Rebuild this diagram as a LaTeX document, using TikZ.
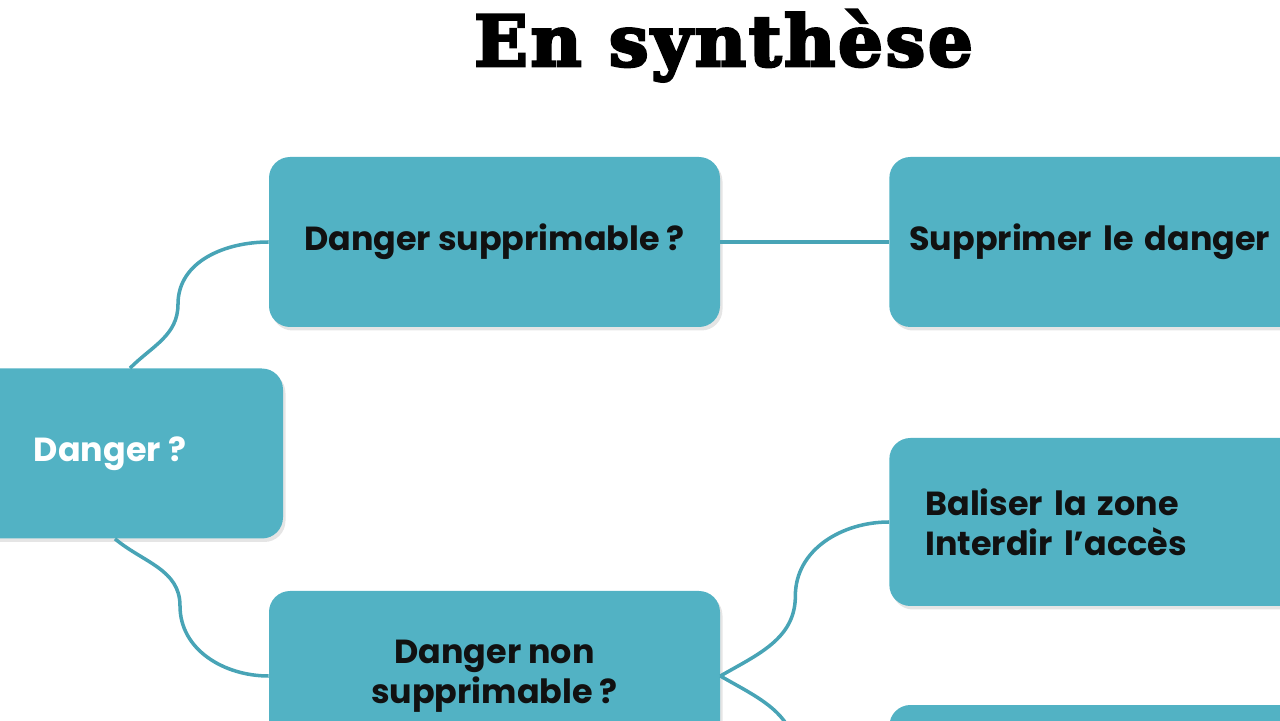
\documentclass[tikz,border=0pt]{standalone}
\usepackage{fontspec}
\setmainfont{Poppins}
\newfontfamily\titlefont{DejaVu Serif}[BoldFont=* Bold,FakeBold=4,LetterSpace=4]
\usepackage{xcolor}
\definecolor{dteal}{RGB}{82,178,196}
\definecolor{dline}{RGB}{72,164,182}
\definecolor{dtext}{RGB}{17,17,17}
\usetikzlibrary{positioning,shadows}

\begin{document}
\begin{tikzpicture}[
  every node/.style={font=\fontsize{19}{22.5}\selectfont\bfseries},
  stepbox/.style={fill=dteal,rounded corners=12pt,minimum height=3.4cm,inner sep=0pt,text=dtext,
    drop shadow={shadow xshift=0.05cm,shadow yshift=-0.07cm,opacity=0.1,fill=black}},
  link/.style={draw=dline,line width=2pt},
]
  \useasboundingbox (0,0) rectangle (25.6,14.4);
  \clip (0,0) rectangle (25.6,14.4);

  % Title
  \node[font=\titlefont\fontsize{40}{46}\selectfont\bfseries,anchor=base] (title) at (14.47,13.08) {En synthèse};

  % Root
  \node[stepbox,minimum width=6.92cm,text=white] (dang) at (2.2,5.33) {Danger ?};

  % Questions
  \node[stepbox,minimum width=9.02cm] (dsup) at (9.89,9.56) {Danger supprimable ?};
  \node[stepbox,minimum width=9.02cm,align=center] (dnon) at (9.89,0.88) {Danger non\\supprimable ?};

  % Actions
  \node[stepbox,anchor=west,inner xsep=0.4cm,text width=8.2cm,align=left] (rem) at (17.78,9.56) {Supprimer le danger};
  \node[stepbox,anchor=west,inner xsep=0.72cm,text width=7.56cm,align=left,minimum height=3.36cm] (zone) at (17.78,3.96) {%
    Baliser la zone\\Interdir l’accès};
  \node[stepbox,anchor=west,minimum width=9cm,minimum height=3.36cm] (next) at (17.78,-1.38) {};

  % Links
  \draw[link] ([xshift=0.4cm]dang.north) to[out=45,in=-90] ++(0.96,1.28) to[out=90,in=180] (dsup.west);
  \draw[link] ([xshift=0.1cm]dang.south) to[out=-40,in=90] ++(1.3,-1.34) to[out=-90,in=180] (dnon.west);
  \draw[link] (dsup.east) -- (rem.west);
  \draw[link] (dnon.east) to[out=30,in=-90] ++(1.5,1.6) to[out=90,in=180] (zone.west);
  \draw[link] (dnon.east) to[out=-30,in=90] ++(1.5,-1.6) to[out=-90,in=180] (next.west);
\end{tikzpicture}
\end{document}
